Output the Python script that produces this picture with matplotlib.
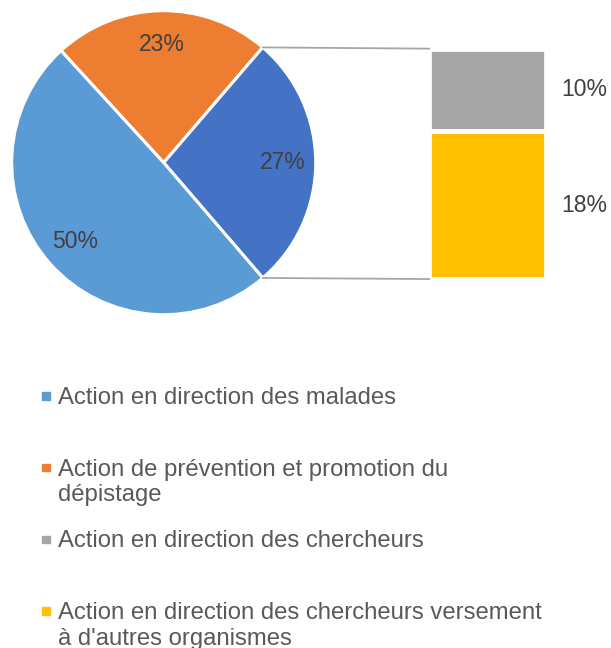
import matplotlib
matplotlib.use("Agg")
import matplotlib.pyplot as plt
from matplotlib.patches import ConnectionPatch, Rectangle
import numpy as np

plt.rcParams['font.family'] = ['Liberation Sans', 'DejaVu Sans']

# ---- data ----
pie_labels = ["Action de prévention et promotion du dépistage",
              "Autres (chercheurs)",
              "Action en direction des malades"]
pie_values = [23.1, 27.4, 49.5]
pie_colors = ["#ED7D31", "#4472C4", "#5B9BD5"]

bar_labels = ["Action en direction des chercheurs",
              "Action en direction des chercheurs versement à d'autres organismes"]
bar_values = [9.8, 17.6]
bar_colors = ["#A5A5A5", "#FFC000"]

legend_labels = ["Action en direction des malades",
                 "Action de prévention et promotion du\ndépistage",
                 "Action en direction des chercheurs",
                 "Action en direction des chercheurs versement\nà d'autres organismes"]
legend_colors = ["#5B9BD5", "#ED7D31", "#A5A5A5", "#FFC000"]

W, H = 611, 648
fig = plt.figure(figsize=(W / 100, H / 100), dpi=100)

def px_axes(x0, y0, x1, y1):
    return fig.add_axes([x0 / W, 1 - y1 / H, (x1 - x0) / W, (y1 - y0) / H])

# ---- pie ----
cx, cy, r = 163.7, 162.7, 152
ax1 = px_axes(cx - r, cy - r, cx + r, cy + r)
wedges, texts, autotexts = ax1.pie(
    pie_values, colors=pie_colors, startangle=132.5, counterclock=False,
    autopct=lambda p: f"{p:.0f}%", pctdistance=0.78,
    wedgeprops=dict(edgecolor="white", linewidth=2.2),
    textprops=dict(color="#404040", fontsize=16.5))
ax1.set_xlim(-1, 1)
ax1.set_ylim(-1, 1)
ax1.set_aspect("equal")
ax1.axis("off")

# ---- stacked bar ----
total = sum(bar_values)
pad = 2.35
bx0, bx1 = 431.7 - pad, 543.3 + pad
ax2 = px_axes(bx0, 51 - pad, bx1, 276.7 + pad)
bottom = total
for v, c in zip(bar_values, bar_colors):
    bottom -= v
    ax2.bar(0, v, bottom=bottom, width=1.0, color=c,
            edgecolor="white", linewidth=3.4)
    ax2.text((584 - bx0) / (bx1 - bx0) - 0.5, bottom + v / 2, f"{v:.0f}%",
             ha="center", va="center", fontsize=16.5, color="#404040",
             clip_on=False)
ax2.set_xlim(-0.5, 0.5)
ax2.set_ylim(0, total)
ax2.axis("off")

# ---- connector lines ----
other = wedges[1]
for ang, y in [(other.theta1, 0), (other.theta2, total)]:
    a = np.deg2rad(ang)
    con = ConnectionPatch(xyA=(np.cos(a), np.sin(a)), coordsA=ax1.transData,
                          xyB=(-0.5, y), coordsB=ax2.transData,
                          color="#A6A6A6", linewidth=1.3)
    fig.add_artist(con)

# ---- legend ----
y0 = 395.5
for i, (lab, col) in enumerate(zip(legend_labels, legend_colors)):
    y = y0 + i * 71.7
    fig.add_artist(Rectangle((42 / W, 1 - (y + 4.2) / H), 7.5 / W, 7.5 / H,
                             transform=fig.transFigure, color=col))
    for j, line in enumerate(lab.split("\n")):
        fig.text(58 / W, 1 - (y + j * 25.5) / H, line, ha="left",
                 va="center_baseline", fontsize=17.2, color="#595959")

fig.savefig("out.png", dpi=100)
